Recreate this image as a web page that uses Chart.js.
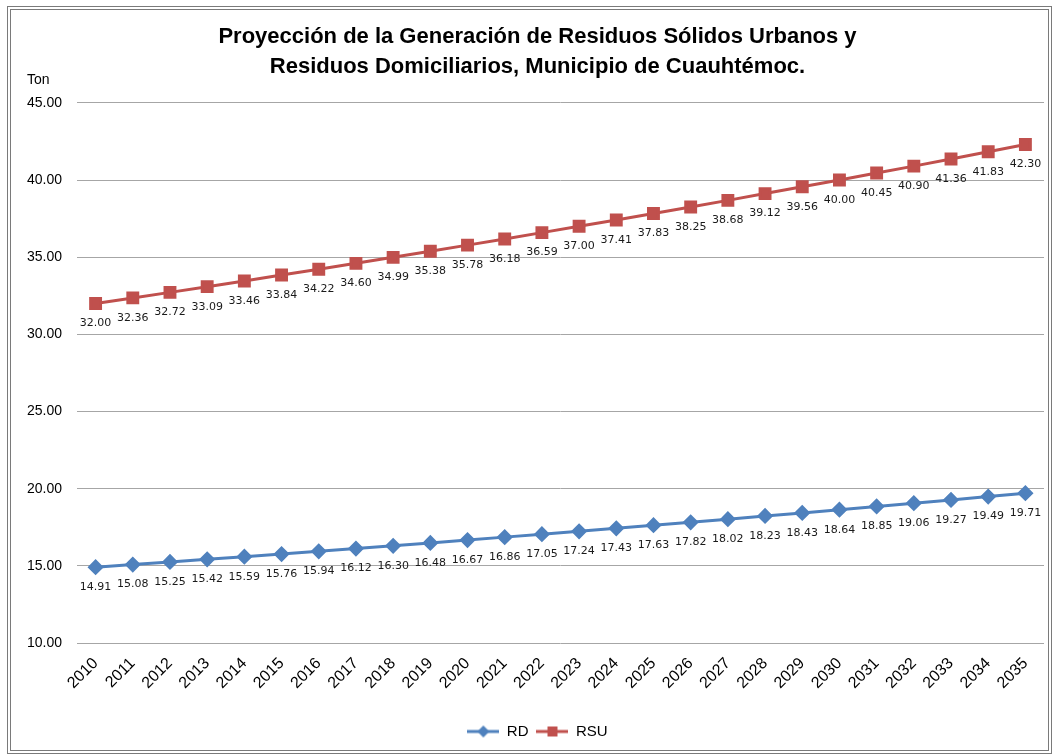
<!DOCTYPE html>
<html>
<head>
<meta charset="utf-8">
<script src="https://cdn.jsdelivr.net/npm/chart.js@4.4.0/dist/chart.umd.min.js"></script>
<style>
  body { margin: 0; background: #fff; }
  #wrap { position: relative; width: 1054px; height: 755px; }
  #marco {
    position: absolute; left: 7px; top: 6px; width: 1045px; height: 748px;
    box-sizing: border-box; border: 4px double #7a7a7a; pointer-events: none;
  }
</style>
</head>
<body>
<div id="wrap">
  <canvas id="grafico" width="1054" height="755"></canvas>
  <div id="marco"></div>
</div>
<script>
// Datos
const anios = ["2010","2011","2012","2013","2014","2015","2016","2017","2018","2019","2020","2021","2022",
  "2023","2024","2025","2026","2027","2028","2029","2030","2031","2032","2033","2034","2035"];
const valoresRD = [14.91,15.08,15.25,15.42,15.59,15.76,15.94,16.12,16.30,16.48,16.67,16.86,17.05,
  17.24,17.43,17.63,17.82,18.02,18.23,18.43,18.64,18.85,19.06,19.27,19.49,19.71];
const valoresRSU = [32.00,32.36,32.72,33.09,33.46,33.84,34.22,34.60,34.99,35.38,35.78,36.18,36.59,
  37.00,37.41,37.83,38.25,38.68,39.12,39.56,40.00,40.45,40.90,41.36,41.83,42.30];
const tituloLineas = ["Proyección de la Generación de Residuos Sólidos Urbanos y",
  "Residuos Domiciliarios, Municipio de Cuauhtémoc."];

const azul = "#4F81BD";
const rojo = "#C0504D";

// Icono de leyenda: línea con marcador
function iconoLeyenda(color, forma) {
  const c = document.createElement("canvas");
  c.width = 32; c.height = 14;
  const g = c.getContext("2d");
  g.strokeStyle = color; g.fillStyle = color; g.lineWidth = 3;
  g.beginPath(); g.moveTo(0, 7); g.lineTo(32, 7); g.stroke();
  g.beginPath();
  if (forma === "rombo") {
    g.moveTo(16, 1); g.lineTo(22, 7); g.lineTo(16, 13); g.lineTo(10, 7);
  } else {
    g.rect(11, 2, 10, 10);
  }
  g.fill();
  return c;
}

// Etiquetas de datos bajo cada punto y texto "Ton"
const etiquetasPlugin = {
  id: "etiquetas",
  afterDatasetsDraw(chart) {
    const ctx = chart.ctx;
    ctx.save();
    ctx.font = "11px 'DejaVu Sans'";
    ctx.fillStyle = "#1a1a1a";
    ctx.textAlign = "center";
    ctx.textBaseline = "middle";
    chart.data.datasets.forEach((ds, i) => {
      chart.getDatasetMeta(i).data.forEach((p, j) => {
        ctx.fillText(ds.data[j].toFixed(2), p.x, p.y + 20);
      });
    });
    ctx.font = "14px 'Liberation Sans'";
    ctx.textAlign = "left";
    ctx.fillStyle = "#000";
    ctx.fillText("Ton", chart.scales.y.left, chart.chartArea.top - 23);
    ctx.restore();
  }
};

const ctx = document.getElementById("grafico").getContext("2d");
new Chart(ctx, {
  type: "line",
  data: {
    labels: anios,
    datasets: [
      {
        label: "RD", data: valoresRD, borderColor: azul, backgroundColor: azul,
        borderWidth: 3, pointStyle: "rectRot", pointRadius: 6, pointHoverRadius: 6,
        tension: 0
      },
      {
        label: "RSU", data: valoresRSU, borderColor: rojo, backgroundColor: rojo,
        borderWidth: 3, pointStyle: "rect", pointRadius: 7, pointHoverRadius: 7,
        tension: 0
      }
    ]
  },
  options: {
    responsive: false,
    animation: false,
    layout: { padding: { left: 27, right: 6, top: 0, bottom: 6 } },
    plugins: {
      title: {
        display: true, text: tituloLineas, color: "#000",
        font: { family: "'Liberation Sans'", size: 22, weight: "bold", lineHeight: 1.36 },
        padding: { top: 22, bottom: 21 }
      },
      legend: {
        position: "bottom",
        labels: {
          usePointStyle: true, pointStyleWidth: 32, padding: 8, color: "#000",
          font: { family: "'Liberation Sans'", size: 15 },
          generateLabels(chart) {
            return [
              { text: "RD", pointStyle: iconoLeyenda(azul, "rombo"), datasetIndex: 0, lineWidth: 0, fontColor: "#000" },
              { text: "RSU", pointStyle: iconoLeyenda(rojo, "cuadro"), datasetIndex: 1, lineWidth: 0, fontColor: "#000" }
            ];
          }
        }
      },
      tooltip: { enabled: false }
    },
    scales: {
      x: {
        offset: true,
        grid: { display: false },
        border: { display: false },
        ticks: {
          color: "#000", maxRotation: 45, minRotation: 45, autoSkip: false,
          font: { family: "'Liberation Sans'", size: 16 }
        },
        afterFit(scale) { scale.height = 73; }
      },
      y: {
        min: 10, max: 45,
        grid: { color: "#a6a6a6", lineWidth: 1, drawTicks: false },
        border: { display: false },
        ticks: {
          stepSize: 5, color: "#000", crossAlign: "far",
          font: { family: "'Liberation Sans'", size: 14 },
          callback: v => v.toFixed(2)
        },
        afterFit(scale) { scale.width = 50; }
      }
    }
  },
  plugins: [etiquetasPlugin]
});
</script>
</body>
</html>
